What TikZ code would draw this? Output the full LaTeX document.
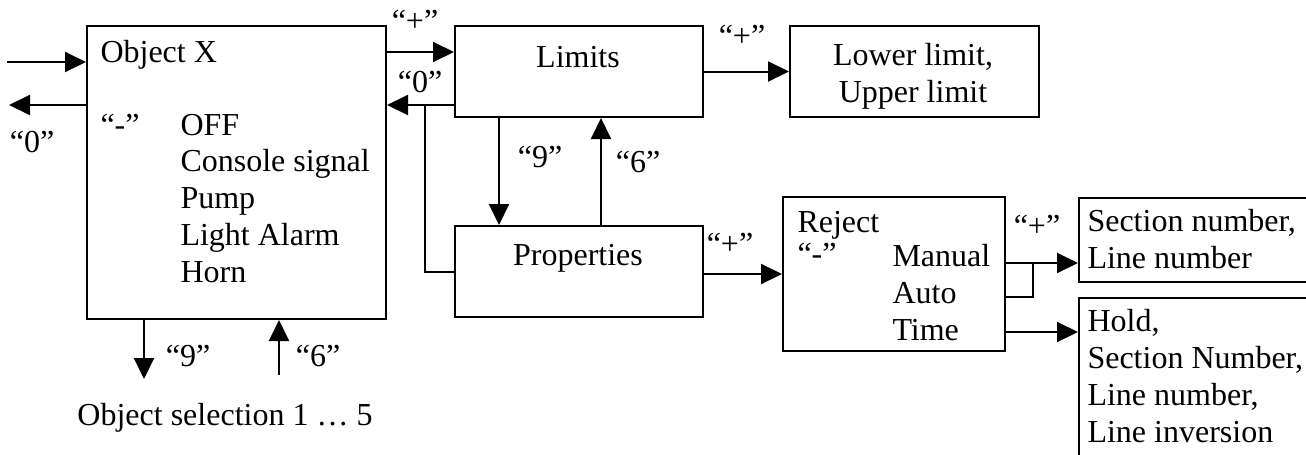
\documentclass[tikz,border=0pt]{standalone}
\usepackage{fontspec}
\setmainfont{Liberation Serif}
\usetikzlibrary{arrows.meta}

\tikzset{
  box/.style={rectangle, draw, line width=0.8pt, inner sep=0pt, anchor=north west},
  txt/.style={rectangle, draw=none, inner sep=0pt, font=\fontsize{12.8}{14.7}\selectfont},
  wire/.style={line width=0.8pt},
  arr/.style={line width=0.8pt, -{Triangle[length=8.4pt,width=8pt]}},
}

\begin{document}
\begin{tikzpicture}[x=0.4pt,y=-0.4pt]
\useasboundingbox (0,0) rectangle (1306,454);
\clip (0,0) rectangle (1306,454);

%%Help coordinates
\coordinate (inL) at (7,62);
\coordinate (outL) at (9,105);
\coordinate (plusY) at (420,52);
\coordinate (zeroY) at (420,105);
\coordinate (join) at (425,105);
\coordinate (nineX) at (499,0);
\coordinate (sixX) at (601,0);
\coordinate (manY) at (0,263);
\coordinate (autoY) at (0,297);
\coordinate (autoJ) at (1033,297);
\coordinate (timeY) at (0,332);
\coordinate (selDown) at (144,379);
\coordinate (selUp) at (279,375);

%%Boxes
\node[box, minimum width=119.6pt, minimum height=117.2pt] (objx) at (86,25) {};
\node[box, minimum width=99.2pt, minimum height=36.4pt] (limits) at (454,25) {};
\node[box, minimum width=99.6pt, minimum height=36.4pt] (lower) at (789,25) {};
\node[box, minimum width=99.2pt, minimum height=36.4pt] (props) at (454,225) {};
\node[box, minimum width=88.8pt, minimum height=61.6pt] (reject) at (782,196) {};
\node[box, minimum width=100.8pt, minimum height=33.6pt] (secnum) at (1078,197) {};
\node[box, minimum width=100.8pt, minimum height=69.2pt] (hold) at (1078,297) {};

%%Box texts (base of a multi-line text is its last line)
\node[txt, anchor=base west] (objtitle) at (100,62) {Object X};
\node[txt, anchor=base west] (objminus) at (100,135) {“-”};
\node[txt, anchor=base west, align=left] (objlist) at (180,282) {OFF\\Console signal\\Pump\\Light Alarm\\Horn};
\node[txt, anchor=base] (limtxt) at (578,67) {Limits};
\node[txt, anchor=base, align=center] (lowtxt) at (913,102) {Lower limit,\\Upper limit};
\node[txt, anchor=base] (proptxt) at (578,265) {Properties};
\node[txt, anchor=base west] (rejtxt) at (797,232) {Reject};
\node[txt, anchor=base west] (rejminus) at (797,264) {“-”};
\node[txt, anchor=base west, align=left] (rejlist) at (892,340) {Manual\\Auto\\Time};
\node[txt, anchor=base west, align=left] (sectxt) at (1087,268) {Section number,\\Line number};
\node[txt, anchor=base west, align=left] (holdtxt) at (1087,442) {Hold,\\Section Number,\\Line number,\\Line inversion};
\node[txt, anchor=base] (seltxt) at (225,425) {Object selection 1 … 5};

%%Object X in and out
\draw[arr] (inL) -- (inL -| objx.west);
\draw[arr] (outL -| objx.west) -- (outL);
\draw[arr] (objx.south -| selDown) -- (selDown);
\draw[arr] (selUp) -- (selUp |- objx.south);

%%Object X and Limits
\draw[arr] (plusY -| objx.east) -- (plusY -| limits.west);
\draw[arr] (zeroY -| limits.west) -- (zeroY -| objx.east);
\draw[wire] (join) |- (props.west);

%%Limits and Properties
\draw[arr] (nineX |- limits.south) -- (nineX |- props.north);
\draw[arr] (sixX |- props.north) -- (sixX |- limits.south);
\draw[arr] (limits.east) -- (lower.west);
\draw[arr] (props.east |- reject.west) -- (reject.west);

%%Reject outputs
\draw[arr] (manY -| reject.east) -- (manY -| secnum.west);
\draw[wire] (autoY -| reject.east) -- (autoJ) -- (autoJ |- manY);
\draw[arr] (timeY -| reject.east) -- (timeY -| hold.west);

%%Labels
\node[txt, anchor=base] (lplus1) at (415,31) {“+”};
\node[txt, anchor=base] (lzero1) at (420,92) {“0”};
\node[txt, anchor=base] (lzero2) at (32,152) {“0”};
\node[txt, anchor=base] (lnine1) at (188,366) {“9”};
\node[txt, anchor=base] (lsix1) at (318,366) {“6”};
\node[txt, anchor=base] (lnine2) at (540,167) {“9”};
\node[txt, anchor=base] (lsix2) at (638,172) {“6”};
\node[txt, anchor=base] (lplus2) at (742,46) {“+”};
\node[txt, anchor=base] (lplus3) at (730,254) {“+”};
\node[txt, anchor=base] (lplus4) at (1037,236) {“+”};

\end{tikzpicture}
\end{document}
